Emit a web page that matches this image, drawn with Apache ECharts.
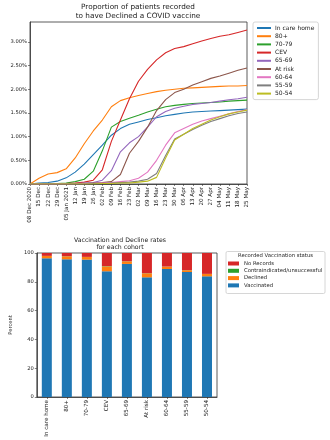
<!DOCTYPE html>
<html>
<head>
<meta charset="utf-8">
<script src="https://cdn.jsdelivr.net/npm/echarts@6/dist/echarts.min.js"></script>
<style>
  html, body { margin: 0; padding: 0; background: #fff; }
  #chart { width: 330px; height: 440px; }
</style>
</head>
<body>
<div id="chart"></div>
<script>
// days since 08 Dec 2020, one reading per week
const days = [0, 7, 14, 21, 28, 35, 42, 49, 56, 63, 70, 77, 84, 91, 98, 105, 112, 119, 126, 133, 140, 147, 154, 161, 168];

const careHome = [0, 0.02, 0.03, 0.06, 0.13, 0.25, 0.42, 0.62, 0.82, 1.03, 1.17, 1.26, 1.31, 1.36, 1.40, 1.44, 1.47, 1.50, 1.52, 1.53, 1.54, 1.55, 1.56, 1.57, 1.58];
const over80 = [0, 0.12, 0.21, 0.24, 0.32, 0.55, 0.85, 1.12, 1.35, 1.63, 1.76, 1.82, 1.87, 1.91, 1.95, 1.98, 2.00, 2.02, 2.03, 2.04, 2.05, 2.06, 2.07, 2.07, 2.08];
const age7079 = [0, 0, 0.01, 0.01, 0.02, 0.05, 0.10, 0.27, 0.70, 1.20, 1.32, 1.39, 1.45, 1.52, 1.58, 1.63, 1.66, 1.68, 1.70, 1.71, 1.72, 1.73, 1.75, 1.76, 1.77];
const cev = [0, 0, 0, 0.01, 0.01, 0.02, 0.04, 0.08, 0.30, 0.90, 1.35, 1.80, 2.17, 2.42, 2.62, 2.77, 2.86, 2.90, 2.96, 3.02, 3.07, 3.12, 3.15, 3.20, 3.25];
const age6569 = [0, 0, 0, 0, 0.01, 0.01, 0.02, 0.03, 0.08, 0.28, 0.68, 0.87, 1.00, 1.20, 1.42, 1.53, 1.60, 1.64, 1.68, 1.70, 1.72, 1.75, 1.78, 1.80, 1.83];
const atRisk = [0, 0, 0, 0, 0, 0.01, 0.01, 0.02, 0.03, 0.05, 0.20, 0.65, 0.90, 1.20, 1.55, 1.78, 1.93, 2.00, 2.09, 2.16, 2.23, 2.28, 2.34, 2.40, 2.45];
const age6064 = [0, 0, 0, 0, 0, 0, 0.01, 0.01, 0.02, 0.03, 0.05, 0.07, 0.12, 0.25, 0.50, 0.82, 1.08, 1.17, 1.26, 1.33, 1.38, 1.43, 1.48, 1.53, 1.57];
const age5559 = [0, 0, 0, 0, 0, 0, 0, 0.01, 0.01, 0.02, 0.03, 0.04, 0.06, 0.10, 0.22, 0.60, 0.95, 1.05, 1.15, 1.24, 1.32, 1.38, 1.44, 1.49, 1.52];
const age5054 = [0, 0, 0, 0, 0, 0, 0, 0, 0.01, 0.01, 0.02, 0.02, 0.04, 0.06, 0.14, 0.55, 0.93, 1.05, 1.17, 1.26, 1.35, 1.42, 1.48, 1.52, 1.56];

const cohorts = ['In care home', '80+', '70-79', 'CEV', '65-69', 'At risk', '60-64', '55-59', '50-54'];
const vaccinated = [96.3, 95.6, 95.4, 87.3, 92.4, 83.1, 88.9, 86.8, 83.8];
const declined = [1.6, 2.1, 1.8, 3.4, 1.8, 2.8, 1.6, 1.2, 1.6];
const contraindicated = [0.1, 0.1, 0.1, 0.2, 0.1, 0.1, 0.1, 0.1, 0.1];
const noRecords = [2.0, 2.2, 2.7, 9.1, 5.7, 14.0, 9.4, 11.9, 14.5];

const lineSeries = [
  ['In care home', careHome, '#1f77b4'],
  ['80+', over80, '#ff7f0e'],
  ['70-79', age7079, '#2ca02c'],
  ['CEV', cev, '#d62728'],
  ['65-69', age6569, '#9467bd'],
  ['At risk', atRisk, '#8c564b'],
  ['60-64', age6064, '#e377c2'],
  ['55-59', age5559, '#7f7f7f'],
  ['50-54', age5054, '#bcbd22']
];

const months = ['Jan', 'Feb', 'Mar', 'Apr', 'May', 'Jun', 'Jul', 'Aug', 'Sep', 'Oct', 'Nov', 'Dec'];
const start = Date.UTC(2020, 11, 8);
function dateLabel(v) {
  const d = new Date(start + v * 86400000);
  const dd = String(d.getUTCDate()).padStart(2, '0');
  let s = dd + ' ' + months[d.getUTCMonth()];
  if (v === 0 || (d.getUTCMonth() === 0 && d.getUTCDate() <= 7)) s += ' ' + d.getUTCFullYear();
  return s;
}

const font = 'DejaVu Sans';
const axisCol = '#333';

const chart = echarts.init(document.getElementById('chart'));

const series = lineSeries.map(([name, vals, color]) => ({
  name,
  type: 'line',
  xAxisIndex: 0,
  yAxisIndex: 0,
  showSymbol: false,
  smooth: false,
  color,
  lineStyle: { width: 1.1, color },
  data: days.map((d, i) => [d, vals[i]])
}));

const barParts = [
  ['Vaccinated', vaccinated, '#1f77b4'],
  ['Declined', declined, '#ff7f0e'],
  ['Contraindicated/unsuccessful', contraindicated, '#2ca02c'],
  ['No Records', noRecords, '#d62728']
];
barParts.forEach(([name, vals, color]) => {
  series.push({
    name,
    type: 'bar',
    xAxisIndex: 1,
    yAxisIndex: 1,
    stack: 'all',
    barWidth: '50%',
    color,
    itemStyle: { color },
    data: vals
  });
});

const option = {
  backgroundColor: '#fff',
  animation: false,
  textStyle: { fontFamily: font },
  title: [
    {
      text: 'Proportion of patients recorded\nto have Declined a COVID vaccine',
      left: 138, top: 3, padding: 0, textAlign: 'center',
      textStyle: { fontFamily: font, fontSize: 7.3, fontWeight: 'normal', color: '#222', lineHeight: 8.6 }
    },
    {
      text: 'Vaccination and Decline rates\nfor each cohort',
      left: 120, top: 237, padding: 0, textAlign: 'center',
      textStyle: { fontFamily: font, fontSize: 6.2, fontWeight: 'normal', color: '#222', lineHeight: 6.8 }
    }
  ],
  legend: [
    {
      data: lineSeries.map(s => s[0]),
      orient: 'vertical',
      left: 253, top: 22,
      padding: [3, 4, 3, 4],
      itemWidth: 14, itemHeight: 2, itemGap: 2.2,
      icon: 'rect',
      borderColor: '#ccc', borderWidth: 0.8, borderRadius: 2,
      textStyle: { fontFamily: font, fontSize: 6, color: '#222', padding: [0, 0, 0, -1] }
    },
    {
      data: ['No Records', 'Contraindicated/unsuccessful', 'Declined', 'Vaccinated'],
      orient: 'vertical',
      left: 228, top: 261,
      padding: 0,
      itemWidth: 11, itemHeight: 4, itemGap: 2.3,
      icon: 'rect',
      textStyle: { fontFamily: font, fontSize: 5.3, color: '#222' }
    }
  ],
  graphic: [
    {
      type: 'rect',
      shape: { x: 226, y: 251.5, width: 99, height: 42, r: 1.5 },
      style: { fill: 'none', stroke: '#ccc', lineWidth: 0.8 }
    },
    {
      type: 'text',
      x: 275.5, y: 256,
      style: { text: 'Recorded Vaccination status', font: '5.3px "DejaVu Sans"', fill: '#222', align: 'center', verticalAlign: 'middle' }
    }
  ],
  grid: [
    { left: 30, top: 22, width: 217, height: 162, show: true, borderColor: axisCol, borderWidth: 0.8, backgroundColor: 'transparent' },
    { left: 22, top: 253, width: 195, height: 144, show: true, borderColor: axisCol, borderWidth: 0.8, backgroundColor: 'transparent' }
  ],
  xAxis: [
    {
      gridIndex: 0,
      type: 'value',
      min: 0, max: 168, interval: 7,
      splitLine: { show: false },
      axisLine: { lineStyle: { color: axisCol, width: 0.8 } },
      axisTick: { show: true, length: 2, lineStyle: { color: axisCol, width: 0.6 } },
      axisLabel: { rotate: 90, fontSize: 5.6, color: '#222', margin: 3, formatter: dateLabel, showMinLabel: true, showMaxLabel: true }
    },
    {
      gridIndex: 1,
      type: 'category',
      data: cohorts,
      axisLine: { lineStyle: { color: axisCol, width: 0.8 } },
      axisTick: { show: true, alignWithLabel: true, length: 2, lineStyle: { color: axisCol, width: 0.6 } },
      axisLabel: { rotate: 90, fontSize: 5.6, color: '#222', margin: 3, interval: 0 }
    }
  ],
  yAxis: [
    {
      gridIndex: 0,
      type: 'value',
      min: 0, max: 3.42, interval: 0.5,
      splitLine: { show: false },
      axisLine: { show: true, lineStyle: { color: axisCol, width: 0.8 } },
      axisTick: { show: true, length: 2, lineStyle: { color: axisCol, width: 0.6 } },
      axisLabel: { fontSize: 5.2, color: '#222', margin: 3, showMaxLabel: false, formatter: v => v.toFixed(2) + '%' }
    },
    {
      gridIndex: 1,
      type: 'value',
      min: 0, max: 100, interval: 20,
      name: 'Percent',
      nameLocation: 'middle',
      nameGap: 14,
      nameTextStyle: { fontSize: 5.2, color: '#222' },
      splitLine: { show: false },
      axisLine: { show: true, lineStyle: { color: axisCol, width: 0.8 } },
      axisTick: { show: true, length: 2, lineStyle: { color: axisCol, width: 0.6 } },
      axisLabel: { fontSize: 5.2, color: '#222', margin: 3 }
    }
  ],
  series
};

chart.setOption(option);
</script>
</body>
</html>
